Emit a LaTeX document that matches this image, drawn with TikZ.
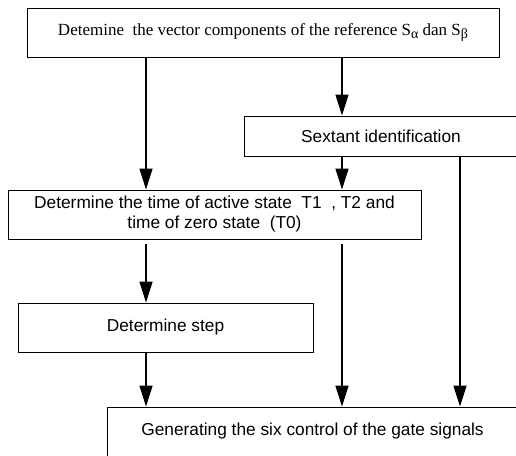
\documentclass[tikz,border=0pt]{standalone}
\usepackage{fontspec}
\setmainfont{Liberation Serif}
\setsansfont{Liberation Sans}
\usetikzlibrary{arrows.meta}
\newcommand{\mysubs}[1]{\raisebox{-3.5pt}{\fontsize{14}{14}\selectfont #1}}
\begin{document}
\begin{tikzpicture}[x=1pt,y=-1pt,
  box/.style={draw,line width=0.9pt,rectangle,inner sep=0pt,align=center,
    font=\sffamily\fontsize{17.3}{20}\selectfont},
  arr/.style={line width=1.5pt,-{Triangle[length=21pt,width=13pt]}}]
\useasboundingbox (0,0) rectangle (516,455);
\clip (0,0) rectangle (516,455);
\node[box,minimum width=472pt,minimum height=49pt,
  font=\rmfamily\fontsize{17}{20}\selectfont] (top) at (263,32.5)
  {Detemine\ \ the vector components of the reference S\mysubs{α} dan S\mysubs{β}};
\node[box,minimum width=274pt,minimum height=40pt] (sext) at (381,136) {Sextant identification};
\node[box,minimum width=413pt,minimum height=49pt] (time) at (214.5,214.5)
  {Determine the time of active state\ \ T1\ \ , T2 and\\time of zero state\ \ (T0)};
\node[box,minimum width=295pt,minimum height=49pt] (stepbox) at (165.5,327.5) {Determine step};
\node[box,minimum width=411pt,minimum height=49pt] (gen) at (312.5,431.5)
  {Generating the six control of the gate signals};
\coordinate (c1) at (146,0);
\coordinate (c2) at (342,0);
\coordinate (c3) at (460,0);
\draw[arr] (top.south -| c1) -- (time.north -| c1);
\draw[arr] (top.south -| c2) -- (sext.north -| c2);
\draw[arr] (sext.south -| c2) -- (time.north -| c2);
\draw[arr,shorten <=5pt] (time.south -| c1) -- (stepbox.north -| c1);
\draw[arr,shorten <=5pt] (time.south -| c2) -- (gen.north -| c2);
\draw[arr] (stepbox.south -| c1) -- (gen.north -| c1);
\draw[arr] (sext.south -| c3) -- (gen.north -| c3);
\end{tikzpicture}
\end{document}
